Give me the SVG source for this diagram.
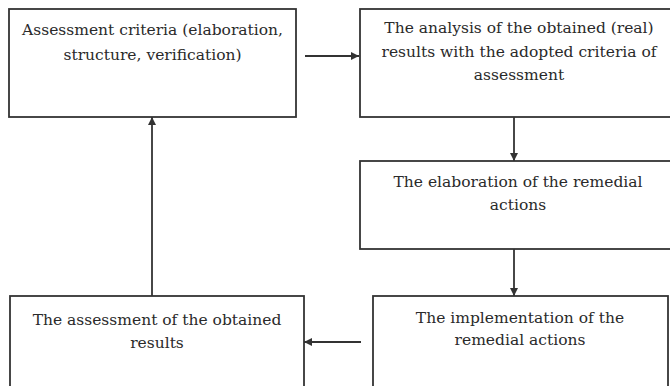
<svg xmlns="http://www.w3.org/2000/svg" width="670" height="386" viewBox="0 0 670 386">
<style>
.box{fill:#fff;stroke:#333;stroke-width:1.8}
text{font-family:'DejaVu Serif',serif;font-size:15.5px;fill:#2a2a2a;text-anchor:middle}
.c{stroke:#333;stroke-width:1.8;fill:none;marker-end:url(#ah)}
</style>
<defs>
<marker id="ah" viewBox="0 0 10 10" refX="10" refY="5" markerWidth="9" markerHeight="8" markerUnits="userSpaceOnUse" orient="auto">
<path d="M0,0 L10,5 L0,10 z" fill="#333"/>
</marker>
</defs>
<rect width="670" height="386" fill="#fff"/>
<g id="n1">
<rect class="box" x="9" y="9" width="287" height="108"/>
<text x="152.5" y="35">Assessment criteria (elaboration,</text>
<text x="152.5" y="60">structure, verification)</text>
</g>
<g id="n2">
<rect class="box" x="360" y="9" width="320" height="108"/>
<text x="519" y="33">The analysis of the obtained (real)</text>
<text x="519" y="57">results with the adopted criteria of</text>
<text x="519" y="80">assessment</text>
</g>
<g id="n3">
<rect class="box" x="360" y="161" width="320" height="88"/>
<text x="518" y="187">The elaboration of the remedial</text>
<text x="518" y="210">actions</text>
</g>
<g id="n4">
<rect class="box" x="373" y="296" width="295" height="110"/>
<text x="520" y="323">The implementation of the</text>
<text x="520" y="345">remedial actions</text>
</g>
<g id="n5">
<rect class="box" x="10" y="296" width="294" height="110"/>
<text x="157" y="325">The assessment of the obtained</text>
<text x="157" y="348">results</text>
</g>
<g id="connectors">
<path class="c" d="M305,56 H359"/>
<path class="c" d="M514,117 V161"/>
<path class="c" d="M514,249 V296"/>
<path class="c" d="M361,342 H304"/>
<path class="c" d="M152,296 V117"/>
</g>
</svg>
